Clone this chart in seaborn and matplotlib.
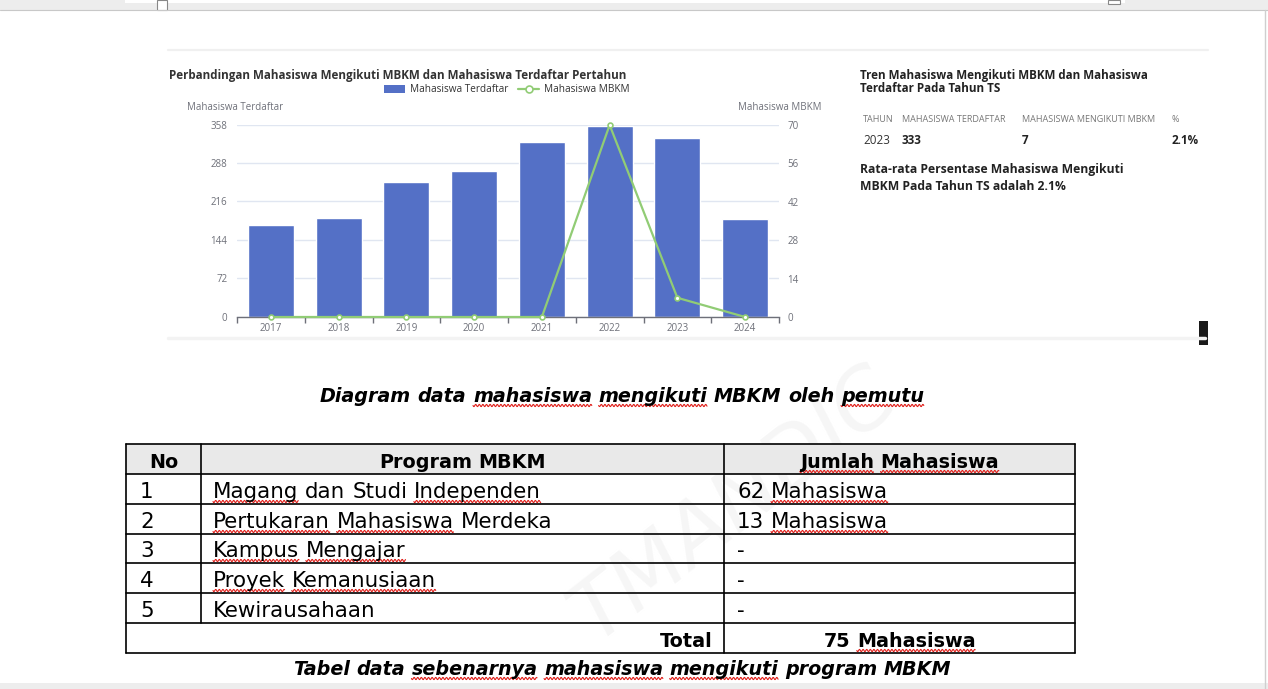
import numpy as np
import pandas as pd
import matplotlib
matplotlib.use("Agg")
import matplotlib.pyplot as plt
import seaborn as sns
from matplotlib.lines import Line2D
from matplotlib.patches import Rectangle, FancyBboxPatch

# data grafik
tahun = ['2017', '2018', '2019', '2020', '2021', '2022', '2023', '2024']
terdaftar = [171, 185, 251, 272, 327, 357, 333, 183]
mbkm = [0, 0, 0, 0, 0, 70, 7, 0]
tick_kiri = [0, 72, 144, 216, 288, 358]
tick_kanan = [0, 14, 28, 42, 56, 70]

# data panel kanan
ts_tahun = '2023'
ts_terdaftar = '333'
ts_mbkm = '7'
ts_persen = '2.1%'

# data tabel
tabel_no = ['1', '2', '3', '4', '5']
tabel_program = ['Magang dan Studi Independen', 'Pertukaran Mahasiswa Merdeka',
                 'Kampus Mengajar', 'Proyek Kemanusiaan', 'Kewirausahaan']
tabel_jumlah = ['62 Mahasiswa', '13 Mahasiswa', '-', '-', '-']
tabel_total = '75 Mahasiswa'
kata_salah = {'mahasiswa', 'Mahasiswa', 'mengikuti', 'pemutu', 'Jumlah', 'Magang',
              'Independen', 'Pertukaran', 'Kampus', 'Mengajar', 'Proyek',
              'Kemanusiaan', 'sebenarnya'}

W, H = 1268, 689
def fx(x):
    return x / W
def fy(y):
    return 1 - y / H

sns.set_theme(style='white')
plt.rcParams['font.family'] = ['Open Sans', 'Lato', 'DejaVu Sans']

fig = plt.figure(figsize=(W / 100, H / 100), dpi=100)
fig.patch.set_facecolor('white')

# tampilan dokumen (pita atas, tepi)
fig.add_artist(Rectangle((0, fy(10)), 1, 10 / H, transform=fig.transFigure, color='#ededed', lw=0))
fig.add_artist(Rectangle((fx(125), fy(3)), 1000 / W, 3 / H, transform=fig.transFigure, color='white', lw=0))
fig.add_artist(Line2D([0, 1], [fy(10), fy(10)], color='#c8c8c8', lw=0.8))
fig.add_artist(Rectangle((fx(157), fy(10)), 10 / W, 10 / H, transform=fig.transFigure, fc='white', ec='#888888', lw=0.8))
fig.add_artist(Rectangle((fx(1108), fy(4)), 12 / W, 4 / H, transform=fig.transFigure, fc='white', ec='#888888', lw=0.8))
fig.add_artist(Line2D([fx(1265), fx(1265)], [fy(10), 0], color='#cfcfcf', lw=1))
fig.add_artist(Rectangle((0, 0), 1, 6 / H, transform=fig.transFigure, color='#ededed', lw=0))

# garis kartu grafik
fig.add_artist(Line2D([fx(168), fx(1208)], [fy(50), fy(50)], color='#f0f0f0', lw=1.6))
fig.add_artist(Line2D([fx(168), fx(1205)], [fy(338), fy(338)], color='#f3f3f3', lw=2.5))

# watermark samar
fig.text(fx(735), fy(505), 'TMANDIC', rotation=38, fontsize=60, color='#f6f6f6',
         ha='center', va='center', style='italic', family='DejaVu Sans', zorder=0)

# grafik batang + garis
ax = fig.add_axes([fx(237), fy(317), (779 - 237) / W, (317 - 125) / H])
ax.set_facecolor('none')
sns.barplot(x=tahun, y=terdaftar, color='#5470c6', saturation=1, width=0.68, ax=ax)
ax.set_ylim(0, 358)
ax.set_xlim(-0.5, 7.5)
ax.set_yticks(tick_kiri)
ax.yaxis.grid(True, color='#e0e6f1', lw=1)
ax.set_axisbelow(True)
ax.set_xlabel('')
ax.set_ylabel('')
for s in ['left', 'right', 'top']:
    ax.spines[s].set_visible(False)
ax.spines['bottom'].set_color('#6e7079')
ax.spines['bottom'].set_linewidth(1)
ax.tick_params(axis='y', length=0, labelsize=7, labelcolor='#6e7079', pad=7)
ax.tick_params(axis='x', which='major', length=0, labelsize=7, labelcolor='#6e7079', pad=4)
ax.set_xticks(np.arange(-0.5, 8, 1), minor=True)
ax.tick_params(axis='x', which='minor', length=4, color='#6e7079', width=1, bottom=True)

ax2 = ax.twinx()
sns.pointplot(x=tahun, y=mbkm, ax=ax2, color='#91cc75', markers='o', linewidth=1.6,
              markersize=3.5)
for ln in ax2.lines:
    ln.set_markerfacecolor('white')
    ln.set_markeredgecolor('#91cc75')
    ln.set_markeredgewidth(1.2)
    ln.set_clip_on(False)
ax2.set_ylim(0, 70)
ax2.set_xlim(-0.5, 7.5)
ax2.set_yticks(tick_kanan)
ax2.set_ylabel('')
for s in ax2.spines.values():
    s.set_visible(False)
ax2.tick_params(axis='y', length=0, labelsize=7, labelcolor='#6e7079', pad=6)
ax2.grid(False)

fig.text(fx(187), fy(108), 'Mahasiswa Terdaftar', fontsize=7, color='#6e7079', va='center')
fig.text(fx(822), fy(108), 'Mahasiswa MBKM', fontsize=7, color='#6e7079', va='center', ha='right')
fig.text(fx(169), fy(75), 'Perbandingan Mahasiswa Mengikuti MBKM dan Mahasiswa Terdaftar Pertahun',
         fontsize=8.4, weight='bold', color='#333333', va='center')

h_bar = FancyBboxPatch((0, 0), 1, 1, boxstyle='round,pad=0,rounding_size=0.2', fc='#5470c6', ec='none')
h_line = Line2D([], [], color='#91cc75', lw=1.6, marker='o', markersize=5,
                markerfacecolor='white', markeredgecolor='#91cc75', markeredgewidth=1.2)
leg = ax.legend([h_bar, h_line], ['Mahasiswa Terdaftar', 'Mahasiswa MBKM'], loc='center',
                bbox_to_anchor=(fx(507), fy(90)), bbox_transform=fig.transFigure, ncol=2,
                frameon=False, fontsize=7.2, handlelength=2.1, handleheight=0.9,
                columnspacing=1.0, handletextpad=0.5, labelcolor='#333333')

# panel kanan
fig.text(fx(860), fy(75), 'Tren Mahasiswa Mengikuti MBKM dan Mahasiswa', fontsize=8.4,
         weight='bold', color='#222222', va='center')
fig.text(fx(860), fy(89), 'Terdaftar Pada Tahun TS', fontsize=8.4, weight='bold',
         color='#222222', va='center')
for x, t in zip([863, 902, 1022, 1172],
                ['TAHUN', 'MAHASISWA TERDAFTAR', 'MAHASISWA MENGIKUTI MBKM', '%']):
    fig.text(fx(x), fy(119), t, fontsize=6.5, color='#777777', va='center')
fig.text(fx(863), fy(140), ts_tahun, fontsize=8.4, color='#333333', va='center')
for x, t in zip([902, 1022, 1172], [ts_terdaftar, ts_mbkm, ts_persen]):
    fig.text(fx(x), fy(140), t, fontsize=8.4, weight='bold', color='#222222', va='center')
fig.text(fx(860), fy(170), 'Rata-rata Persentase Mahasiswa Mengikuti', fontsize=8.7,
         weight='bold', color='#222222', va='center')
fig.text(fx(860), fy(187), 'MBKM Pada Tahun TS adalah ' + ts_persen, fontsize=8.7,
         weight='bold', color='#222222', va='center')
fig.add_artist(Rectangle((fx(1199), fy(345)), 9 / W, 24 / H, transform=fig.transFigure,
                         color='#1a1a1a', lw=0))

# teks dokumen dengan garis bergelombang merah
fig.canvas.draw()
rend = fig.canvas.get_renderer()

def lebar(s, **kw):
    t = fig.text(0, 0, s, **kw)
    w = t.get_window_extent(rend).width
    t.remove()
    return w

def gelombang(x1, x2, y):
    xs = np.arange(x1, x2, 0.4)
    ys = y + 1.1 * np.sin(2 * np.pi * (xs - x1) / 3.6)
    fig.add_artist(Line2D(xs / W, 1 - ys / H, color='#e0201b', lw=0.8))

def tulis(x, y, teks, ha='left', **kw):
    kata = teks.split(' ')
    spasi = lebar('a a', **kw) - lebar('aa', **kw)
    ws = [lebar(k, **kw) for k in kata]
    total = sum(ws) + spasi * (len(kata) - 1)
    x0 = x - total / 2 if ha == 'center' else (x - total if ha == 'right' else x)
    for k, w in zip(kata, ws):
        fig.text(fx(x0), fy(y), k, va='baseline', ha='left', color='black', **kw)
        if k in kata_salah:
            gelombang(x0, x0 + w, y + 3.5)
        x0 += w + spasi

cap = dict(fontsize=13.8, weight='bold', style='italic', family='DejaVu Sans')
tulis(622, 402, 'Diagram data mahasiswa mengikuti MBKM oleh pemutu', ha='center', **cap)
tulis(622, 675, 'Tabel data sebenarnya mahasiswa mengikuti program MBKM', ha='center', **cap)

# tabel
xl, xc1, xc2, xr = 126, 201, 724, 1075
ys = [444, 474, 504, 534, 563, 593, 623, 653]
fig.add_artist(Rectangle((fx(xl), fy(ys[1])), (xr - xl) / W, (ys[1] - ys[0]) / H,
                         transform=fig.transFigure, color='#e9e9e9', lw=0))
for y in ys:
    fig.add_artist(Line2D([fx(xl), fx(xr)], [fy(y), fy(y)], color='black', lw=1.2))
for x in [xl, xr]:
    fig.add_artist(Line2D([fx(x), fx(x)], [fy(ys[0]), fy(ys[-1])], color='black', lw=1.2))
fig.add_artist(Line2D([fx(xc1), fx(xc1)], [fy(ys[0]), fy(ys[-2])], color='black', lw=1.2))
fig.add_artist(Line2D([fx(xc2), fx(xc2)], [fy(ys[0]), fy(ys[-1])], color='black', lw=1.2))

isi = dict(fontsize=15.4, family='DejaVu Sans')
tebal = dict(fontsize=13.8, family='DejaVu Sans', weight='bold')
tulis((xl + xc1) / 2, ys[1] - 6, 'No', ha='center', **tebal)
tulis((xc1 + xc2) / 2, ys[1] - 6, 'Program MBKM', ha='center', **tebal)
tulis((xc2 + xr) / 2, ys[1] - 6, 'Jumlah Mahasiswa', ha='center', **tebal)
for i in range(len(tabel_no)):
    yb = ys[i + 2] - 6
    tulis(140, yb, tabel_no[i], **isi)
    tulis(213, yb, tabel_program[i], **isi)
    tulis(737, yb, tabel_jumlah[i], **isi)
tulis(713, ys[-1] - 6, 'Total', ha='right', **tebal)
tulis((xc2 + xr) / 2, ys[-1] - 6, tabel_total, ha='center', **tebal)

fig.savefig('out.png', dpi=100, facecolor='white')
